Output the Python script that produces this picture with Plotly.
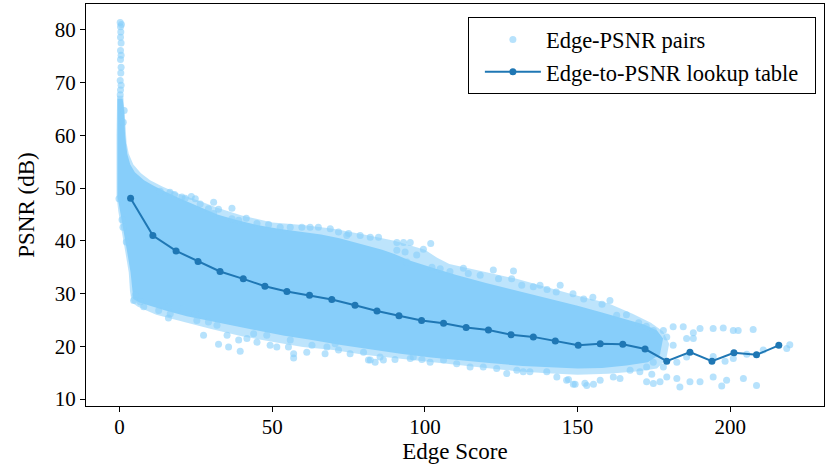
import plotly.graph_objects as go

# outline of the dense part of the Edge-PSNR cloud (edge score, PSNR dB)
cloud_edge_x = [-0.7, 1.0, 1.5, 1.8, 2.5, 3.5, 5.0, 8.0, 11.0, 15.0, 20.0, 26.0, 32.0, 38.0, 45.0,
                52.0, 60.0, 66.0, 72.0, 80.0, 86.0, 90.0, 95.0, 102.0, 110.0, 120.0, 130.0, 140.0,
                150.0, 158.0, 166.0, 172.0, 176.0, 178.0,
                177.0, 173.0, 166.0, 158.0, 150.0, 142.0, 132.0, 122.0, 112.0, 102.0, 92.0, 82.0,
                72.0, 62.0, 54.0, 46.0, 38.0, 30.0, 22.0, 15.0, 10.0, 6.5, 4.5, 4.2, 3.6, 2.6, 1.4,
                0.2, -0.7, -0.7]
cloud_edge_y = [67.0, 67.0, 64.5, 60.0, 56.5, 54.5, 53.0, 51.5, 50.5, 49.3, 48.0, 46.5, 45.0, 44.0, 43.0,
                42.3, 41.6, 41.2, 40.5, 39.2, 38.3, 37.5, 36.3, 35.0, 33.6, 32.0, 30.6, 29.2,
                27.7, 26.4, 25.1, 24.1, 23.0, 21.5,
                18.5, 17.0, 16.4, 15.9, 15.8, 16.0, 16.3, 16.8, 17.3, 17.9, 18.6, 19.4,
                20.3, 21.3, 22.0, 22.9, 23.8, 24.7, 25.7, 26.8, 27.6, 28.3, 29.0, 30.5, 34.0, 37.5, 41.5,
                45.5, 48.5, 60.0]

# outer limit of the thinner fringe round the dense part
fringe_edge_x = [-0.8, 1.2, 1.8, 2.3, 3.0, 4.5, 7.0, 10.0, 14.0, 20.0, 26.0, 32.0, 40.0, 50.0, 60.0,
                 70.0, 80.0, 90.0, 100.0, 104.0, 108.0, 120.0, 130.0, 140.0, 150.0, 160.0, 168.0,
                 174.0, 178.0, 180.0,
                 179.0, 176.0, 170.0, 160.0, 150.0, 140.0, 130.0, 120.0, 110.0, 100.0, 90.0, 80.0,
                 70.0, 60.0, 50.0, 40.0, 30.0, 20.0, 12.0, 6.0, 4.0, 3.4, 3.0, 2.0, 0.8, -0.4, -1.0, -1.0]
fringe_edge_y = [67.5, 67.5, 63.0, 58.5, 56.5, 54.5, 52.8, 51.5, 50.3, 48.8, 47.6, 46.3, 44.8, 43.5, 43.0,
                 42.3, 41.2, 40.0, 38.3, 36.8, 35.6, 34.0, 32.8, 31.2, 29.6, 28.2, 26.2,
                 24.5, 22.8, 20.5,
                 17.5, 15.8, 15.3, 14.8, 14.6, 14.9, 15.3, 15.9, 16.5, 17.1, 17.7, 18.4,
                 19.3, 19.9, 20.9, 21.9, 23.3, 24.8, 26.0, 27.5, 28.3, 30.5, 34.0, 37.5, 41.5, 45.5, 48.5, 60.0]

# separate Edge-PSNR pairs around the dense area
pair_x = [0.2, 0.6, 0.3, 0.4, 0.3, 0.5, 0.3, 0.5, 0.3, 0.5, 0.4, 0.2, 0.5, 0.3, 0.2, 1.5, 1.2,
          -0.2, 0.8, 1.1, 2.2,
          13.3, 16.5, 18.0, 20.4, 21.5, 23.5, 24.8, 26.4, 29.1, 30.8, 30.8, 32.4, 36.8, 36.8, 39.0,
          41.5, 45.0, 48.8, 52.6, 55.9, 59.7, 62.4, 65.1, 69.0, 71.7, 74.4,
          75.0, 78.8, 82.1, 84.8, 90.8, 93.0, 95.2, 101.9, 99.5, 97.3, 93.5, 90.8, 94.1, 102.3,
          105.0, 108.2, 112.6, 114.2, 118.1, 122.4, 129.0, 124.1, 128.4, 131.7, 135.5,
          137.7, 140.0, 143.0, 144.3, 148.5, 152.0, 155.0, 160.6, 158.0, 162.8, 166.0, 170.0,
          172.5, 174.8,
          178.1, 179.2, 181.3, 184.6, 185.7, 187.9, 190.1, 194.4, 197.7, 201.0, 202.6, 207.5,
          210.8, 218.5, 219.5, 175.9, 182.5, 185.7, 194.4, 198.3, 201.0, 205.4, 181.3, 187.9,
          174.8, 172.6, 178.1, 174.3,
          126.8, 132.2, 139.9, 143.2, 146.4, 148.6, 153.0, 155.2, 157.4, 161.7, 163.9, 167.2,
          170.4, 172.6, 174.8, 177.0, 179.2, 182.5, 183.5, 186.8, 190.1, 194.4, 197.2, 198.8,
          204.3, 208.6,
          71.7, 75.5, 79.9, 81.5, 83.7, 86.4, 90.2, 96.2, 99.0, 101.7, 106.1, 110.4, 114.8,
          119.1, 123.5, 130.1, 134.4, 147.0, 149.2, 152.4, 95.2, 85.3, 82.1,
          5.1, 4.6, 6.8, 7.9, 12.8, 16.0, 16.6, 16.0, 20.9, 24.8, 25.3, 29.1, 31.9, 27.5, 35.2,
          32.4, 35.7, 39.0, 39.5, 41.7, 43.9, 45.0, 48.2, 49.3, 51.5, 55.9, 55.3, 57.0, 57.0,
          61.3, 63.0, 67.3, 67.9, 70.6]
pair_y = [81.4, 81.0, 80.6, 79.6, 78.6, 77.5, 76.1, 75.2, 74.4, 72.9, 71.8, 70.4, 69.5, 68.6, 67.7, 64.7, 62.5,
          48.0, 44.0, 42.6, 39.8,
          49.4, 49.2, 48.8, 48.3, 48.1, 48.4, 48.0, 47.0, 46.1, 47.3, 45.2, 46.0, 46.2, 44.2, 43.9,
          44.3, 43.3, 43.1, 42.6, 42.6, 42.6, 42.6, 42.6, 42.3, 41.7, 41.0,
          41.4, 41.0, 40.7, 40.7, 39.7, 39.7, 39.7, 39.5, 38.4, 37.3, 37.9, 38.2, 36.0, 35.0,
          34.7, 34.2, 34.8, 33.8, 33.5, 34.5, 34.3, 32.8, 32.8, 31.6, 31.3,
          31.6, 30.8, 30.3, 31.6, 30.0, 29.0, 29.3, 28.7, 28.0, 25.9, 26.0, 24.5,
          23.8, 23.0,
          23.0, 21.8, 23.7, 23.7, 21.5, 21.5, 23.4, 23.4, 23.5, 23.0, 23.0, 23.2,
          19.3, 19.6, 20.3, 18.6, 17.0, 18.0, 18.1, 17.2, 17.7, 18.5, 20.2, 22.6,
          17.0, 16.1, 16.1, 14.7,
          14.85, 15.2, 15.2, 14.2, 13.6, 12.8, 12.6, 12.8, 13.6, 14.2, 13.9, 15.5,
          15.2, 13.3, 12.95, 13.3, 14.2, 13.9, 12.3, 13.3, 13.3, 14.2, 12.5, 13.6,
          13.9, 12.6,
          19.3, 18.6, 18.9, 17.4, 17.0, 17.4, 17.5, 18.0, 17.5, 17.0, 17.4, 16.7, 16.1,
          16.1, 15.8, 15.5, 15.2, 13.7, 12.8, 13.0, 17.7, 18.0, 17.4,
          29.7, 28.7, 28.4, 27.5, 26.8, 27.5, 26.2, 25.4, 27.2, 26.2, 24.9, 24.6, 24.0, 22.1, 22.1,
          20.4, 19.9, 21.2, 19.1, 21.5, 22.4, 20.8, 22.1, 20.2, 19.9, 21.2, 19.9, 18.6, 17.8,
          18.9, 20.2, 18.6, 19.9, 20.5]

# Edge-to-PSNR lookup table (bin centre, mean PSNR)
lut_x = [3.6, 10.9, 18.5, 25.7, 32.9, 40.5, 47.6, 54.8, 62.2, 69.5, 77.1, 84.3, 91.5, 98.9, 106.1,
         113.5, 120.8, 128.2, 135.5, 142.7, 150.2, 157.4, 164.8, 172.1, 179.2, 186.8, 194.0, 201.2,
         208.6, 215.9]
lut_y = [48.1, 41.0, 38.1, 36.1, 34.2, 32.8, 31.4, 30.4, 29.7, 28.9, 27.8, 26.7, 25.8, 24.9, 24.4,
         23.6, 23.1, 22.2, 21.8, 21.0, 20.2, 20.5, 20.4, 19.5, 17.2, 18.9, 17.2, 18.8,
         18.4, 20.2]

sky = '#87CEFA'
font = 'Liberation Serif'

fig = go.Figure()
fig.add_trace(go.Scatter(x=fringe_edge_x, y=fringe_edge_y, fill='toself',
                         fillcolor='rgba(135,206,250,0.55)', mode='lines', line=dict(width=0, color=sky),
                         showlegend=False, hoverinfo='skip'))
fig.add_trace(go.Scatter(x=cloud_edge_x, y=cloud_edge_y, fill='toself', fillcolor=sky,
                         mode='lines', line=dict(width=0, color=sky),
                         showlegend=False, hoverinfo='skip'))
fig.add_trace(go.Scatter(x=pair_x, y=pair_y, mode='markers', name='Edge-PSNR pairs',
                         marker=dict(color=sky, size=7, opacity=0.6, line=dict(width=0))))
fig.add_trace(go.Scatter(x=lut_x, y=lut_y, mode='lines+markers',
                         name='Edge-to-PSNR lookup table\u00a0\u00a0',
                         line=dict(color='#1f77b4', width=2),
                         marker=dict(color='#1f77b4', size=7)))

axis_style = dict(showgrid=False, zeroline=False, showline=True, linecolor='black', linewidth=1,
                  mirror=True, ticks='outside', ticklen=5, tickwidth=1, tickcolor='black',
                  automargin=False, tickfont=dict(family=font, size=21, color='black'))
fig.update_xaxes(range=[-11, 230.7], tickvals=[0, 50, 100, 150, 200], ticklabelstandoff=-3,
                 title=dict(text='Edge Score', font=dict(family=font, size=23, color='black'), standoff=0),
                 **axis_style)
fig.update_yaxes(range=[8.7, 84.9], tickvals=[10, 20, 30, 40, 50, 60, 70, 80],
                 title=dict(text='PSNR (dB)', font=dict(family=font, size=23, color='black'), standoff=13),
                 **axis_style)
fig.update_layout(width=830, height=474, plot_bgcolor='white', paper_bgcolor='white',
                  margin=dict(l=86, r=6, t=4, b=68),
                  legend=dict(x=0.989, y=0.9665, xanchor='right', yanchor='top',
                              bgcolor='white', bordercolor='black', borderwidth=1,
                              indentation=11, itemwidth=56,
                              font=dict(family=font, size=22.5, color='black')))
# the page body has a default 8px margin; drop it so the figure sits at the window corner
fig.write_html('out.html', config={'displayModeBar': False},
               post_script="document.body.style.margin='0';")
